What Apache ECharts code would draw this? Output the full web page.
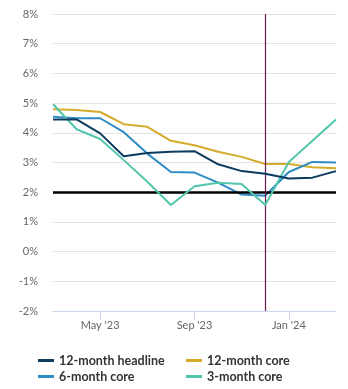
<!DOCTYPE html>
<html>
<head>
<meta charset="utf-8">
<style>
  html, body { margin: 0; padding: 0; background: #fff; }
  #chart { width: 348px; height: 389px; }
</style>
<script src="https://cdn.jsdelivr.net/npm/echarts@6/dist/echarts.min.js"></script>
</head>
<body>
<div id="chart"></div>
<script>
// Monthly readings, Mar 2023 – Mar 2024 (percent)
const months = ["Mar '23", "Apr '23", "May '23", "Jun '23", "Jul '23", "Aug '23", "Sep '23",
                "Oct '23", "Nov '23", "Dec '23", "Jan '24", "Feb '24", "Mar '24"];
const headline12 = [4.45, 4.45, 3.98, 3.21, 3.32, 3.36, 3.38, 2.94, 2.71, 2.62, 2.46, 2.49, 2.71];
const core12     = [4.79, 4.77, 4.70, 4.29, 4.20, 3.73, 3.58, 3.36, 3.19, 2.95, 2.95, 2.84, 2.81];
const core6      = [4.54, 4.49, 4.49, 4.02, 3.30, 2.68, 2.66, 2.32, 1.92, 1.88, 2.68, 3.02, 3.00];
const core3      = [4.96, 4.12, 3.79, 3.08, 2.35, 1.57, 2.20, 2.32, 2.28, 1.57, 3.02, 3.73, 4.45];
const tickMonths = ["May '23", "Sep '23", "Jan '24"];
const targetRate = 2;
const markerMonth = "Dec '23";

const colors = {
  headline12: '#0d3b5e',
  core12: '#d4ac2b',
  core6: '#2e8bc4',
  core3: '#52c6ad'
};

const chart = echarts.init(document.getElementById('chart'), null, { renderer: 'canvas' });

const isTick = (i) => tickMonths.indexOf(months[i]) !== -1;

function lineSeries(name, data, color, extra) {
  return Object.assign({
    name: name,
    type: 'line',
    data: data,
    symbol: 'none',
    lineStyle: { color: color, width: 2 },
    itemStyle: { color: color },
    animation: false
  }, extra || {});
}

const legendText = { fontFamily: 'Lato', fontSize: 12.5, fontWeight: 'bold', color: '#333' };

// One legend entry per slot, laid out as a two-column grid
function legendEntry(name, left, top) {
  return {
    left: left, top: top,
    itemWidth: 16, itemHeight: 3, icon: 'rect',
    padding: 0,
    textStyle: legendText,
    data: [name]
  };
}

chart.setOption({
  animation: false,
  grid: { left: 53, right: 12, top: 14, bottom: 78, containLabel: false },
  legend: [
    legendEntry('12-month headline', 38, 354),
    legendEntry('6-month core', 38, 370),
    legendEntry('12-month core', 186, 354),
    legendEntry('3-month core', 186, 370)
  ],
  xAxis: {
    type: 'category',
    data: months,
    boundaryGap: false,
    axisLine: { onZero: false, lineStyle: { color: '#ccd6eb', width: 1 } },
    axisTick: { show: true, length: 9, interval: (i) => isTick(i), lineStyle: { color: '#ccd6eb' } },
    axisLabel: {
      interval: (i) => isTick(i),
      color: '#666', fontFamily: 'Lato', fontSize: 11, margin: 9
    },
    splitLine: { show: false }
  },
  yAxis: {
    type: 'value',
    min: -2, max: 8, interval: 1,
    axisLine: { show: false },
    axisTick: { show: false },
    axisLabel: {
      formatter: (v) => v + '%',
      color: '#666', fontFamily: 'Lato', fontSize: 11, margin: 15
    },
    splitLine: { lineStyle: { color: '#e3e3e3', width: 1 } }
  },
  series: [
    lineSeries('12-month core', core12, colors.core12, { z: 3 }),
    lineSeries('6-month core', core6, colors.core6, { z: 4 }),
    lineSeries('3-month core', core3, colors.core3, { z: 5 }),
    lineSeries('12-month headline', headline12, colors.headline12, {
      z: 6,
      markLine: {
        silent: true,
        symbol: 'none',
        label: { show: false },
        animation: false,
        data: [
          { yAxis: targetRate, lineStyle: { color: '#000', width: 2.5, type: 'solid' } },
          { xAxis: markerMonth, lineStyle: { color: '#6b1d4f', width: 1.2, type: 'solid' } }
        ]
      }
    })
  ]
});
</script>
</body>
</html>
